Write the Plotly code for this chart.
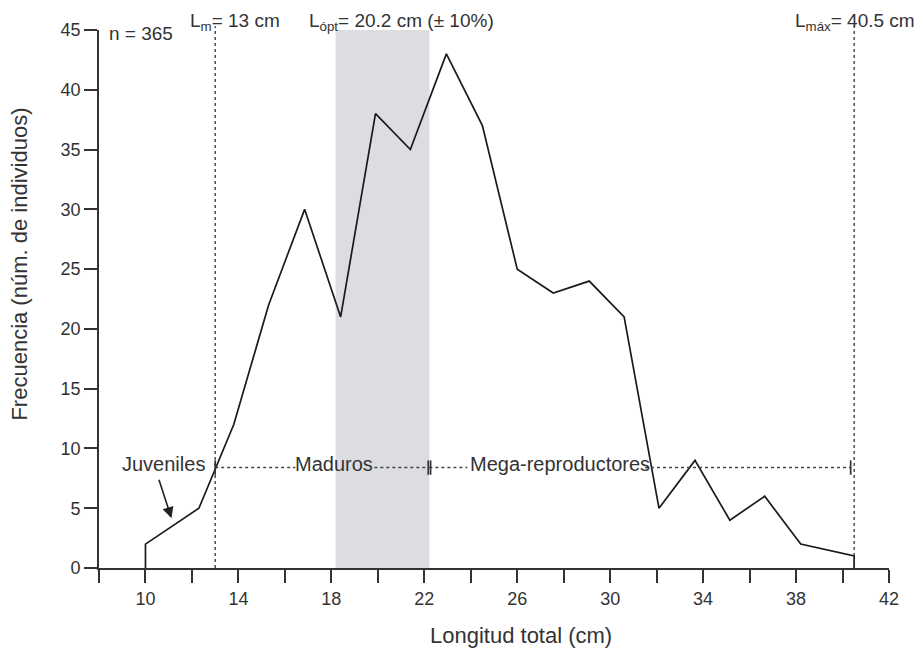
import plotly.graph_objects as go

# Data
longitud = [10, 12.3, 13.8, 15.3, 16.85, 18.4, 19.9, 21.4, 22.95, 24.5,
            26.0, 27.55, 29.1, 30.6, 32.1, 33.65, 35.15, 36.65, 38.2, 40.5]
frecuencia = [2, 5, 12, 22, 30, 21, 38, 35, 43, 37,
              25, 23, 24, 21, 5, 9, 4, 6, 2, 1]
n_total = 365
L_m = 13
L_opt = 20.2
L_max = 40.5
x_labelled_ticks = [10, 14, 18, 22, 26, 30, 34, 38, 42]
x_minor_ticks = [8, 12, 16, 20, 24, 28, 32, 36, 40]
y_tickvals = [0, 5, 10, 15, 20, 25, 30, 35, 40, 45]

FONT = "Liberation Sans, Arial, sans-serif"
TXT = "#333333"

opt_lo = L_opt * 0.9
opt_hi = L_opt * 1.1
y_band = 8.4

xs = [longitud[0]] + longitud + [longitud[-1]]
ys = [0] + frecuencia + [0]

fig = go.Figure()
fig.add_trace(go.Scatter(x=xs, y=ys, mode="lines",
                         line=dict(color="#1a1a1a", width=1.7),
                         hoverinfo="skip", showlegend=False))

shapes = []
# optimal length band
shapes.append(dict(type="rect", xref="x", yref="y", x0=opt_lo, x1=opt_hi, y0=0, y1=45,
                   fillcolor="#dcdde0", line=dict(width=0), layer="below"))
# vertical dotted reference lines
for xv in (L_m, L_max):
    shapes.append(dict(type="line", xref="x", yref="paper", x0=xv, x1=xv, y0=0, y1=1.007,
                       line=dict(color="#333333", width=1.3, dash="dot")))
# dotted stage bar segments
for a, b in [(L_m, 16.45), (19.85, opt_hi), (opt_hi, 23.85), (31.5, 40.35)]:
    shapes.append(dict(type="line", xref="x", yref="y", x0=a, x1=b, y0=y_band, y1=y_band,
                       line=dict(color="#444444", width=1.6, dash="dot")))
# end marks
for xv in (L_m, opt_hi - 0.05, opt_hi + 0.05, 40.35):
    shapes.append(dict(type="line", xref="x", yref="y", x0=xv, x1=xv,
                       y0=y_band - 0.6, y1=y_band + 0.6,
                       line=dict(color="#333333", width=1.7)))

top_y = 1.0148
annotations = [
    dict(x=8.35, y=44.7, xref="x", yref="y", text=f"n = {n_total}", showarrow=False,
         xanchor="left", yanchor="middle", font=dict(size=19, color=TXT, family=FONT)),
    dict(x=13.87, y=top_y, xref="x", yref="paper", text=f"L<sub>m</sub>= {L_m} cm",
         showarrow=False, xanchor="center", yanchor="middle",
         font=dict(size=19, color=TXT, family=FONT)),
    dict(x=21.04, y=top_y, xref="x", yref="paper", text=f"L<sub>ópt</sub>= {L_opt} cm (± 10%)",
         showarrow=False, xanchor="center", yanchor="middle",
         font=dict(size=19, color=TXT, family=FONT)),
    dict(x=40.55, y=top_y, xref="x", yref="paper", text=f"L<sub>máx</sub>= {L_max} cm",
         showarrow=False, xanchor="center", yanchor="middle",
         font=dict(size=19, color=TXT, family=FONT)),
    dict(x=12.63, y=8.7, xref="x", yref="y", text="Juveniles", showarrow=False,
         xanchor="right", yanchor="middle", font=dict(size=20, color=TXT, family=FONT)),
    dict(x=18.13, y=8.7, xref="x", yref="y", text="Maduros", showarrow=False,
         xanchor="center", yanchor="middle", font=dict(size=20, color=TXT, family=FONT)),
    dict(x=27.82, y=8.7, xref="x", yref="y", text="Mega-reproductores", showarrow=False,
         xanchor="center", yanchor="middle", font=dict(size=20, color=TXT, family=FONT)),
    dict(x=11.12, y=4.16, ax=10.56, ay=7.5, xref="x", yref="y", axref="x", ayref="y",
         text="", showarrow=True, arrowhead=2, arrowsize=1.4, arrowwidth=1.6,
         arrowcolor="#222222"),
    dict(x=0.534, y=-0.126, xref="paper", yref="paper", text="Longitud total (cm)",
         showarrow=False, xanchor="center", yanchor="middle",
         font=dict(size=22, color=TXT, family=FONT)),
    dict(x=-0.1, y=0.564, xref="paper", yref="paper", text="Frecuencia (núm. de individuos)",
         showarrow=False, xanchor="center", yanchor="middle", textangle=-90,
         font=dict(size=22, color=TXT, family=FONT)),
]

fig.update_layout(
    width=914, height=640,
    margin=dict(l=91, r=33, t=19, b=80),
    paper_bgcolor="white", plot_bgcolor="white",
    shapes=shapes, annotations=annotations,
    xaxis=dict(range=[8, 42], tickmode="array", tickvals=x_labelled_ticks,
               ticks="outside", ticklen=13, tickwidth=1.5, tickcolor="#333333",
               minor=dict(tickmode="array", tickvals=x_minor_ticks, ticks="outside",
                          ticklen=13, tickwidth=1.5, tickcolor="#333333", showgrid=False),
               showline=True, linecolor="#333333", linewidth=1.8,
               showgrid=False, zeroline=False,
               tickfont=dict(size=18, color=TXT, family=FONT)),
    yaxis=dict(range=[0, 45], tickmode="array", tickvals=y_tickvals,
               ticks="outside", ticklen=13, tickwidth=1.5, tickcolor="#333333",
               showline=True, linecolor="#333333", linewidth=1.8,
               showgrid=False, zeroline=False,
               tickfont=dict(size=18, color=TXT, family=FONT)),
)

fig.write_html("out.html")
